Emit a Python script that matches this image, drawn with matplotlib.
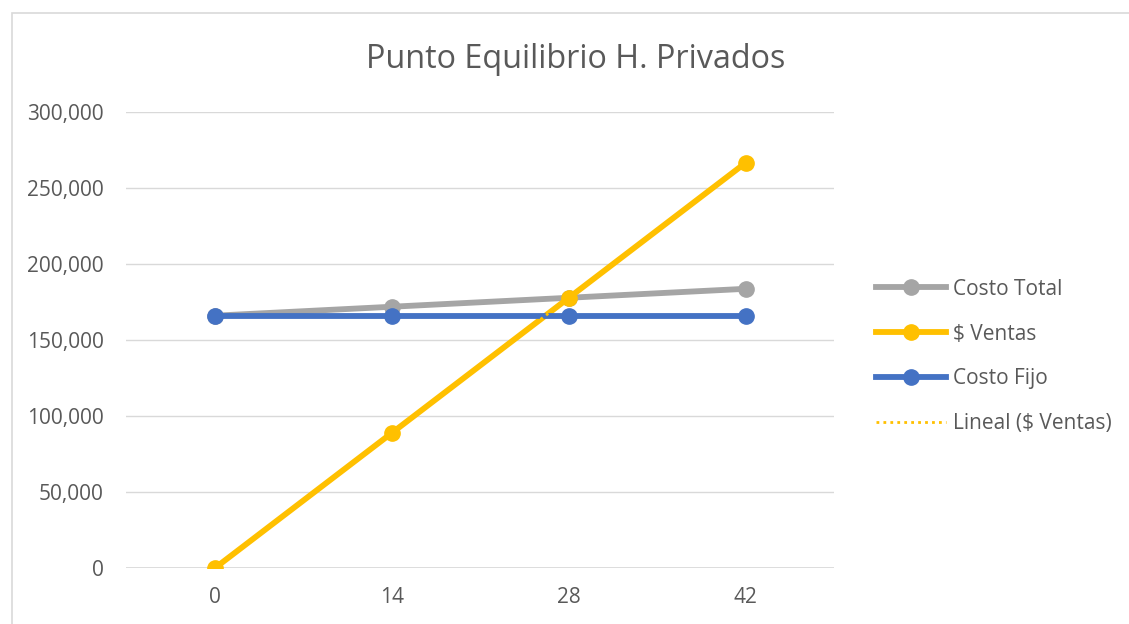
import numpy as np
import matplotlib.pyplot as plt
from matplotlib.patches import Rectangle
from matplotlib.ticker import FuncFormatter

# data
unidades = ['0', '14', '28', '42']
costo_total = [166000, 171900, 177800, 183700]
ventas = [0, 88900, 177800, 266700]
costo_fijo = [166000, 166000, 166000, 166000]

plt.rcParams['font.family'] = ['Open Sans', 'DejaVu Sans']
txt = '#595959'

fig = plt.figure(figsize=(11.29, 6.24), dpi=100)
ax = fig.add_axes([0.112, 0.0897, 0.627, 0.7308])

x = np.arange(len(unidades))
ax.plot(x, costo_total, color='#A5A5A5', lw=4.2, marker='o', ms=11, label='Costo Total', zorder=3)
ax.plot(x, ventas, color='#FFC000', lw=4.2, marker='o', ms=11, label='$ Ventas', zorder=4)
ax.plot(x, costo_fijo, color='#4472C4', lw=4.2, marker='o', ms=11, label='Costo Fijo', zorder=5)

# linear trendline of ventas
k, b = np.polyfit(x, ventas, 1)
ax.plot(x, k * x + b, color='#FFC000', lw=2, ls=(0, (1, 1.5)), label='Lineal ($ Ventas)', zorder=6)

ax.set_xlim(-0.5, 3.5)
ax.set_ylim(0, 300000)
ax.set_xticks(x)
ax.set_xticklabels(unidades)
ax.set_yticks(range(0, 300001, 50000))
ax.yaxis.set_major_formatter(FuncFormatter(lambda v, p: f'{int(v):,}'))
ax.tick_params(length=0, labelsize=15, colors=txt)
ax.tick_params(axis='x', pad=14)
ax.tick_params(axis='y', pad=16.5)
ax.grid(axis='y', color='#D9D9D9', lw=1)
for s in ax.spines.values():
    s.set_visible(False)
ax.axhline(0, color='#D9D9D9', lw=1.2, zorder=1)

fig.text(0.5097, 0.905, 'Punto Equilibrio H. Privados', ha='center', va='center', fontsize=23.3, color=txt)

leg = fig.legend(loc='center left', bbox_to_anchor=(0.7593, 0.4287), frameon=False, fontsize=15,
                 handlelength=3.37, labelspacing=1.15, handletextpad=0.33, labelcolor=txt)

# chart border
fig.patches.append(Rectangle((12 / 1129, -0.1), 1.2, 1 - 13 / 624 + 0.1, transform=fig.transFigure,
                             fill=False, edgecolor='#D9D9D9', lw=1.2))

fig.savefig('out.png', dpi=100)
